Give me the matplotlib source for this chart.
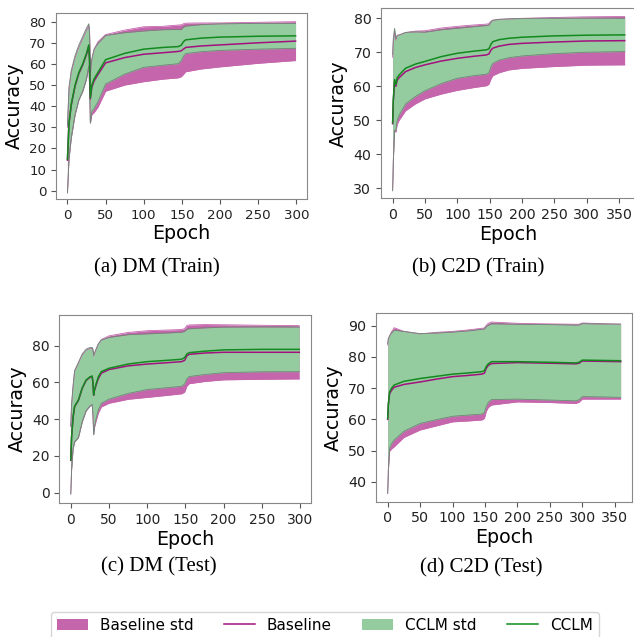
import numpy as np
import matplotlib
matplotlib.use('Agg')
import matplotlib.pyplot as plt

# Colours
BASE_FILL = '#c566ad'
BASE_LINE = '#a3117f'
CCLM_FILL = '#95cc9f'
CCLM_LINE = '#138a1f'
EDGE = '#6f8576'

# (a) DM (Train)
epochs_a = [0, 2, 5, 10, 15, 20, 25, 28, 29, 30, 32, 35, 40, 50, 75, 100, 125, 145, 149, 152, 155, 175, 200, 250, 299]
cclm_mean_a = [15, 32, 41, 50, 56, 60, 65, 69, 62, 44, 50, 53, 56, 62, 65, 67, 67.8, 68.2, 68.8, 70.5, 71.4, 72.2, 72.7, 73.1, 73.3]
cclm_std_a = [16, 17, 16, 14, 13, 13, 12, 10, 13, 12, 12.5, 14, 13.8, 11.5, 9.8, 8.6, 8.4, 8.1, 7.4, 6.9, 6.5, 6.4, 6.3, 6.1, 5.9]
base_mean_a = [14.5, 31.5, 40.5, 49.5, 55.5, 59.5, 64.5, 68.5, 61.5, 43.5, 49, 52, 55, 60.5, 63, 64.6, 65.3, 65.9, 66.2, 67, 67.8, 68.5, 69, 70, 70.8]
base_std_a = [15.5, 16.5, 15.5, 13.5, 12.5, 12.5, 11.5, 9.5, 12.5, 11.5, 13, 15, 15.5, 13.4, 13, 13, 12.5, 12.5, 12.3, 12, 11.5, 10.9, 10.4, 9.7, 9.2]

# (b) C2D (Train)
epochs_b = [0, 1, 3, 5, 7, 10, 20, 35, 50, 75, 100, 125, 145, 149, 152, 155, 165, 180, 200, 250, 300, 359]
cclm_mean_b = [49.3, 56, 62, 60.5, 62.5, 63.3, 65.3, 66.5, 67.3, 68.7, 69.7, 70.3, 70.7, 71, 72.3, 73.1, 73.7, 74.1, 74.4, 74.8, 75, 75.1]
cclm_std_b = [20, 18, 15, 13.5, 12.5, 11.8, 10.5, 9.5, 8.6, 7.9, 7.35, 7.2, 7.15, 7, 6.6, 6.35, 6, 5.7, 5.5, 5.2, 5, 4.9]
base_mean_b = [49, 55.5, 61.5, 60, 61.8, 62.5, 64.3, 65.5, 66.3, 67.4, 68.2, 68.8, 69.2, 69.5, 70.6, 71.2, 71.8, 72.3, 72.6, 73, 73.3, 73.4]
base_std_b = [19.5, 17.5, 14.5, 13.5, 13, 12.5, 11.5, 10.7, 10, 9.7, 9.4, 9.2, 9.05, 8.9, 8.5, 8.1, 7.8, 7.5, 7.35, 7.2, 7.1, 7.1]

# (c) DM (Test)
epochs_c = [0, 1, 3, 5, 10, 15, 20, 25, 28, 29, 30, 31, 33, 36, 40, 50, 75, 100, 125, 145, 149, 152, 155, 175, 200, 250, 299]
cclm_mean_c = [17.8, 30, 41, 47, 50.4, 57, 61.3, 63, 63.5, 60, 53.2, 56, 59, 63, 65.9, 67.7, 70, 71.3, 72, 72.6, 73.5, 75.5, 76.2, 77, 77.7, 78, 78]
cclm_std_c = [18.6, 18, 17.2, 19.5, 20.5, 18.5, 16.8, 16, 15.6, 18, 21.7, 20, 19, 18, 17.2, 16.8, 16, 15.15, 14.9, 14.7, 14.3, 13.5, 13, 12.7, 12.4, 12.2, 12.15]
base_mean_c = [17.6, 29.8, 40.8, 46.8, 50.2, 56.8, 61, 62.8, 63.2, 59.8, 53, 55.5, 58.3, 62, 65, 67, 69, 70, 70.7, 71.3, 72, 74.5, 75.3, 76, 76.4, 76.4, 76.4]
base_std_c = [18.3, 17.7, 16.9, 19.2, 20.2, 18.2, 16.5, 15.7, 15.3, 17.7, 21.4, 20, 19.5, 18.8, 18.35, 18.35, 18.2, 18.15, 17.8, 17.5, 17.3, 16.5, 16, 15.5, 15, 14.7, 14.5]

# (d) C2D (Test)
epochs_d = [0, 1, 3, 6, 10, 25, 50, 75, 100, 125, 145, 149, 152, 155, 160, 200, 250, 290, 295, 300, 330, 359]
cclm_mean_d = [60.3, 65, 68.8, 70, 71, 72.2, 73.1, 73.8, 74.5, 74.9, 75.3, 75.6, 77, 77.8, 78.5, 78.5, 78.3, 78.1, 78.3, 79, 78.9, 78.8]
cclm_std_d = [24, 21, 18, 17.8, 17.6, 16, 14.4, 13.9, 13.5, 13.5, 13.6, 13.4, 12.8, 12.4, 12.15, 12, 12.1, 12.15, 12, 11.7, 11.7, 11.75]
base_mean_d = [60, 64.5, 68.3, 69.3, 70.3, 71.2, 72, 72.9, 73.7, 74.1, 74.5, 74.8, 76.4, 77.3, 77.9, 78.2, 78, 77.8, 78, 78.7, 78.6, 78.5]
base_std_d = [23.8, 21, 18.5, 18.8, 19.1, 17, 15.4, 15, 14.5, 14.6, 14.7, 14.5, 13.8, 13.5, 13.3, 12.6, 12.6, 12.7, 12.5, 12.2, 12.1, 12]

captions = ['(a) DM (Train)', '(b) C2D (Train)', '(c) DM (Test)', '(d) C2D (Test)']

W, H = 634, 637
fig = plt.figure(figsize=(W / 100, H / 100), dpi=100)


def px_axes(left, top, right, bottom):
    return fig.add_axes([left / W, 1 - bottom / H, (right - left) / W, (bottom - top) / H])


def draw_panel(ax, ep, bm, bs, cm, cs, tick_size):
    ep = np.array(ep)
    bm, bs = np.array(bm), np.array(bs)
    cm, cs = np.array(cm), np.array(cs)
    ax.fill_between(ep, bm - bs, bm + bs, color=BASE_FILL, linewidth=0, label='Baseline std')
    ax.plot(ep, bm - bs, color=BASE_FILL, lw=0.6)
    ax.plot(ep, bm + bs, color=BASE_FILL, lw=0.6)
    ax.fill_between(ep, cm - cs, cm + cs, color=CCLM_FILL, linewidth=0, label='CCLM std')
    ax.plot(ep, cm - cs, color=EDGE, lw=0.6)
    ax.plot(ep, cm + cs, color=EDGE, lw=0.6)
    ax.plot(ep, bm, color=BASE_LINE, lw=1.1, label='Baseline')
    ax.plot(ep, cm, color=CCLM_LINE, lw=1.1, label='CCLM')
    ax.set_xlabel('Epoch', fontsize=13.7, labelpad=2)
    ax.set_ylabel('Accuracy', fontsize=13.7)
    ax.tick_params(labelsize=tick_size, color='#555555', colors='#222222')
    for s in ax.spines.values():
        s.set_color('#888888')
        s.set_linewidth(0.8)


ax_a = px_axes(56, 13, 307, 199)
draw_panel(ax_a, epochs_a, base_mean_a, base_std_a, cclm_mean_a, cclm_std_a, 9.6)
ax_a.set_xlim(-15, 314)
ax_a.set_ylim(-3.9, 84.1)
ax_a.set_xticks([0, 50, 100, 150, 200, 250, 300])
ax_a.set_yticks(range(0, 81, 10))

ax_b = px_axes(381, 8.3, 636.3, 198.3)
draw_panel(ax_b, epochs_b, base_mean_b, base_std_b, cclm_mean_b, cclm_std_b, 10.2)
ax_b.set_xlim(-18, 377)
ax_b.set_ylim(27.1, 82.9)
ax_b.set_xticks(range(0, 351, 50))
ax_b.set_yticks(range(30, 81, 10))

ax_c = px_axes(59.3, 315, 310.7, 503.3)
draw_panel(ax_c, epochs_c, base_mean_c, base_std_c, cclm_mean_c, cclm_std_c, 10)
ax_c.set_xlim(-15, 314)
ax_c.set_ylim(-5.8, 96.7)
ax_c.set_xticks([0, 50, 100, 150, 200, 250, 300])
ax_c.set_yticks(range(0, 81, 20))

ax_d = px_axes(376, 312.7, 632.3, 501.7)
draw_panel(ax_d, epochs_d, base_mean_d, base_std_d, cclm_mean_d, cclm_std_d, 10.3)
ax_d.set_xlim(-18, 377)
ax_d.set_ylim(33.6, 94.2)
ax_d.set_xticks(range(0, 351, 50))
ax_d.set_yticks(range(40, 91, 10))

# Captions
cap_pos = [(157, 268), (478, 268), (159, 567), (481, 568)]
for txt, (cx, cy) in zip(captions, cap_pos):
    fig.text(cx / W, 1 - cy / H, txt, ha='center', va='center',
             fontsize=15, family=['Liberation Serif', 'DejaVu Serif'])

# Legend
handles, labels = ax_a.get_legend_handles_labels()
order = [labels.index(l) for l in ['Baseline std', 'Baseline', 'CCLM std', 'CCLM']]
fig.legend([handles[i] for i in order], [labels[i] for i in order],
           loc='upper center', bbox_to_anchor=(325 / W, 1 - 604 / H),
           ncol=4, fontsize=11, frameon=True)

fig.savefig('out.png', dpi=100)
